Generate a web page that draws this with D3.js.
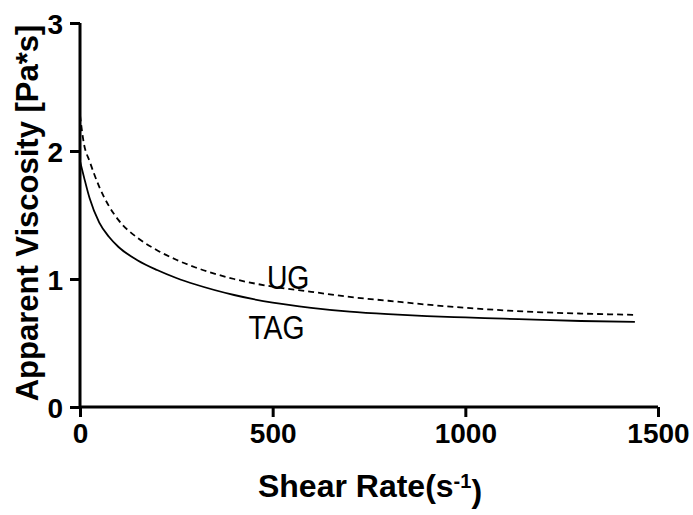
<!DOCTYPE html>
<html>
<head>
<meta charset="utf-8">
<script src="https://cdn.jsdelivr.net/npm/d3@7"></script>
<style>
  html, body { margin: 0; padding: 0; background: #fff; }
  svg { display: block; font-family: "Liberation Sans", Arial, sans-serif; }
</style>
</head>
<body>
<svg id="chart" width="693" height="515"></svg>
<script>
// Shear rate (1/s) sample points
const shearRate = [0, 10, 25, 50, 75, 100, 150, 200, 250, 300, 400, 500, 600, 700, 800, 900, 1000, 1100, 1200, 1300, 1440];
// Apparent viscosity (Pa*s)
const viscosityUG  = [2.28, 2.06, 1.92, 1.72, 1.57, 1.46, 1.32, 1.225, 1.15, 1.09, 1.00, 0.94, 0.90, 0.86, 0.83, 0.80, 0.775, 0.755, 0.74, 0.73, 0.72];
const viscosityTAG = [1.92, 1.80, 1.63, 1.44, 1.33, 1.25, 1.145, 1.07, 1.008, 0.957, 0.875, 0.815, 0.775, 0.745, 0.725, 0.71, 0.70, 0.69, 0.68, 0.672, 0.665];
const xTicks = [0, 500, 1000, 1500];
const yTicks = [0, 1, 2, 3];
const seriesNames = ["UG", "TAG"];

(function () {
  const svg = d3.select("#chart");
  const plotLeft = 80, plotRight = 658, plotTop = 23, plotBottom = 407;

  const x = d3.scaleLinear().domain([0, 1500]).range([plotLeft, plotRight]);
  const y = d3.scaleLinear().domain([0, 3]).range([plotBottom, plotTop]);

  // Axes
  const xAxis = d3.axisBottom(x).tickValues(xTicks).tickSize(10).tickPadding(6).tickFormat(d3.format("d"));
  const yAxis = d3.axisLeft(y).tickValues(yTicks).tickSize(10).tickPadding(7).tickFormat(d3.format("d"));

  const gx = svg.append("g").attr("transform", `translate(0,${plotBottom})`).call(xAxis);
  const gy = svg.append("g").attr("transform", `translate(${plotLeft},0)`).call(yAxis);

  gx.select(".domain").attr("d", `M${plotLeft},0H${plotRight}`);
  gy.select(".domain").attr("d", `M0,${plotTop}V${plotBottom}`);

  [gx, gy].forEach(g => {
    g.select(".domain").attr("stroke", "#000").attr("stroke-width", 3);
    g.selectAll(".tick line").attr("stroke", "#000").attr("stroke-width", 3);
    g.selectAll(".tick text")
      .attr("fill", "#000")
      .style("font-size", "28px")
      .style("font-weight", "bold")
      .style("font-family", "'Liberation Sans', Arial, sans-serif");
  });
  gy.selectAll(".tick text").attr("dy", "0.36em");

  // Curves
  const line = d3.line().x((d, i) => x(shearRate[i])).y(d => y(d)).curve(d3.curveMonotoneX);

  svg.append("path").datum(viscosityUG)
    .attr("fill", "none").attr("stroke", "#000").attr("stroke-width", 1.8)
    .attr("stroke-dasharray", "6,4")
    .attr("d", line);

  svg.append("path").datum(viscosityTAG)
    .attr("fill", "none").attr("stroke", "#000").attr("stroke-width", 1.8)
    .attr("d", line);

  // Series labels
  const labelPos = [[485, 0.92], [437, 0.53]];
  seriesNames.forEach((name, i) => {
    const px = x(labelPos[i][0]), py = y(labelPos[i][1]);
    svg.append("text")
      .attr("transform", `translate(${px},${py}) scale(0.86,1)`)
      .style("font-size", "33px")
      .attr("fill", "#000")
      .text(name);
  });

  // Axis titles
  const xt = svg.append("text")
    .attr("x", 370).attr("y", 497)
    .attr("text-anchor", "middle")
    .style("font-size", "32px").style("font-weight", "bold")
    .attr("fill", "#000");
  xt.append("tspan").text("Shear Rate(s");
  xt.append("tspan").attr("dy", "-0.45em").style("font-size", "20px").text("-1");
  xt.append("tspan").attr("dy", "0.45em").text(")");

  svg.append("text")
    .attr("transform", `translate(38,${(plotTop + plotBottom) / 2 - 2}) rotate(-90)`)
    .attr("text-anchor", "middle")
    .style("font-size", "31px").style("font-weight", "bold")
    .attr("fill", "#000")
    .text("Apparent Viscosity [Pa*s]");
})();
</script>
</body>
</html>
